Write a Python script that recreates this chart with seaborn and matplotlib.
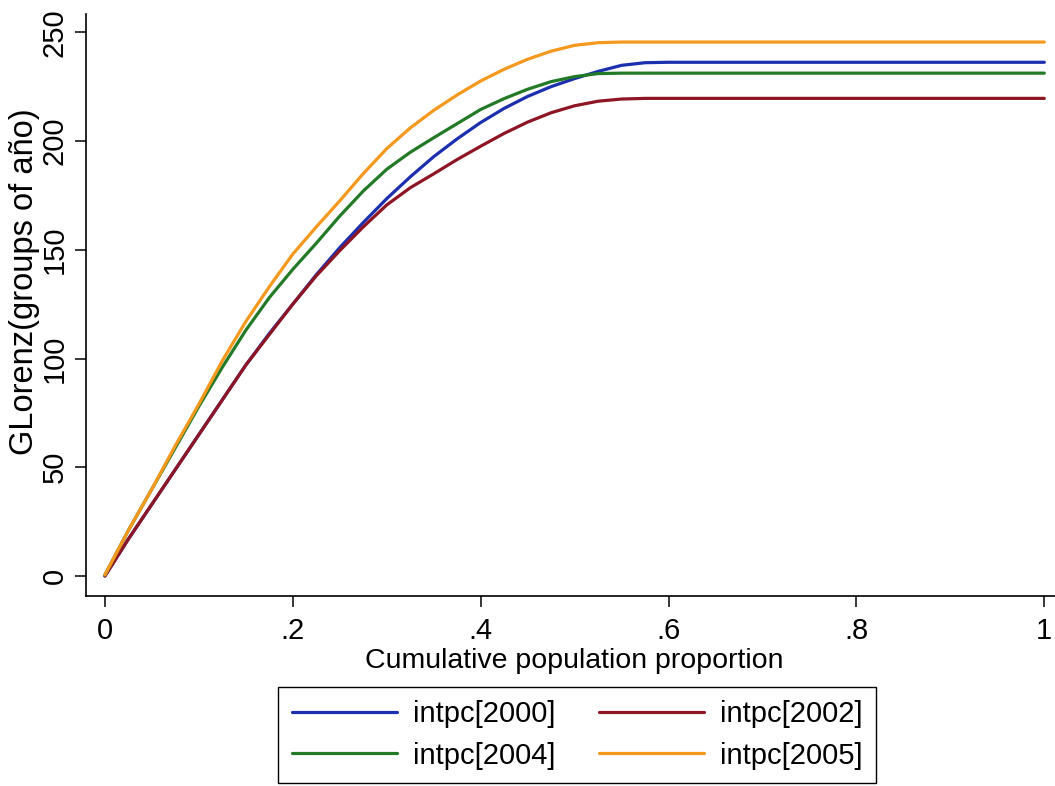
import numpy as np
import pandas as pd
import matplotlib
matplotlib.use("Agg")
import matplotlib.pyplot as plt
import seaborn as sns

sns.set_style("ticks")
plt.rcParams["font.family"] = ["Liberation Sans", "DejaVu Sans"]
plt.rcParams["text.color"] = "black"
plt.rcParams["axes.labelcolor"] = "black"

# ── Data ─────────────────────────────────────────────────────────────────────
p = [0, .025, .05, .075, .1, .125, .15, .175, .2, .225, .25, .275, .3,
     .325, .35, .375, .4, .425, .45, .475, .5, .525, .55, .575, .6, 1.0]

gl_2000 = [0, 17, 33, 49, 65, 81, 97, 111.5, 125, 138.5, 151, 162.5, 173.5,
           183.5, 192.8, 201, 208.5, 215, 220.5, 225, 228.7, 232, 234.8, 236, 236.2, 236.2]
gl_2002 = [0, 17, 33, 49, 65, 81, 97, 111, 125, 138, 149.6, 160.5, 170.6,
           178.5, 184.9, 191.5, 197.6, 203.5, 208.7, 213, 216.2, 218.3, 219.3, 219.6, 219.6, 219.6]
gl_2004 = [0.5, 21, 40, 59, 78, 96, 113, 128, 141, 153, 165.5, 177, 187,
           194.8, 201.5, 208, 214.5, 219.5, 223.8, 227.3, 229.6, 231, 231.2, 231.2, 231.2, 231.2]
gl_2005 = [0.5, 21, 40, 60, 79, 99, 117, 133, 148, 160.5, 172.5, 185, 196.5,
           206, 214.1, 221.2, 227.6, 233, 237.6, 241.3, 244, 245.2, 245.5, 245.5, 245.5, 245.5]

series = ["intpc[2000]", "intpc[2002]", "intpc[2004]", "intpc[2005]"]
colors = ["#1c2fae", "#8e1624", "#237a26", "#f5981e"]

x_ticks = [0, .2, .4, .6, .8, 1]
x_ticklabels = ["0", ".2", ".4", ".6", ".8", "1"]
y_ticks = [0, 50, 100, 150, 200, 250]

df = pd.concat(
    [pd.DataFrame({"p": p, "gl": v, "series": s})
     for s, v in zip(series, [gl_2000, gl_2002, gl_2004, gl_2005])],
    ignore_index=True,
)

# ── Plot ─────────────────────────────────────────────────────────────────────
fig = plt.figure(figsize=(10.55, 7.86), dpi=100)
ax = fig.add_axes([0.0812, 0.2421, 0.9188, 0.7401])

sns.lineplot(
    data=df, x="p", y="gl", hue="series", hue_order=series,
    palette=colors, linewidth=2.3, ax=ax, legend=False,
)

ax.set_xlim(-0.0205, 1.0114)
ax.set_ylim(-9.06, 258.4)
ax.set_xticks(x_ticks)
ax.set_xticklabels(x_ticklabels)
ax.set_yticks(y_ticks)
ax.set_yticklabels([str(v) for v in y_ticks], rotation=90, va="center")
ax.tick_params(axis="both", direction="out", length=8, width=1.1,
               labelsize=21, colors="black")
ax.tick_params(axis="x", pad=7)
ax.tick_params(axis="y", pad=4)

sns.despine(ax=ax)
for side in ("left", "bottom"):
    ax.spines[side].set_linewidth(1.2)
    ax.spines[side].set_color("black")

ax.set_xlabel("Cumulative population proportion", fontsize=20.5)
ax.set_ylabel("GLorenz(groups of año)", fontsize=23.5)
ax.xaxis.set_label_coords(0.504, -0.09)
ax.yaxis.set_label_coords(-0.047, 0.54)

# legend is filled row by row in the reference
order = [0, 2, 1, 3]
handles = [plt.Line2D([], [], color=colors[i], linewidth=2.3) for i in order]
labels = [series[i] for i in order]
fig.legend(
    handles, labels, loc="center", bbox_to_anchor=(577 / 1055, 1 - 735 / 786),
    ncol=2, fontsize=21, frameon=True, fancybox=False, edgecolor="black",
    framealpha=1, handlelength=3.6, handletextpad=0.55, columnspacing=1.5,
    labelspacing=0.45, borderpad=0.45,
).get_frame().set_linewidth(1.0)

fig.savefig("out.png", dpi=100)
